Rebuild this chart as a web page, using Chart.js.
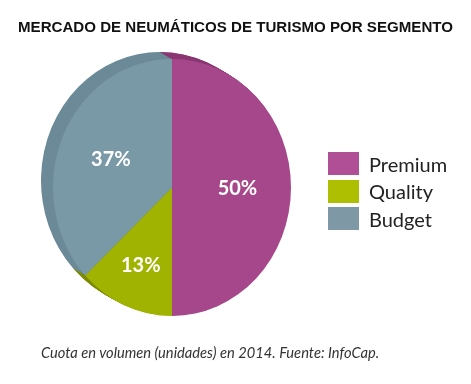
<!DOCTYPE html>
<html><head><meta charset="utf-8">
<script src="https://cdn.jsdelivr.net/npm/chart.js@4.4.0/dist/chart.umd.min.js"></script>
<style>
html,body{margin:0;padding:0;background:#fff;width:471px;height:384px;overflow:hidden;}
#wrap{position:relative;width:471px;height:384px;}
#c{position:absolute;left:0;top:0;}
#title{position:absolute;left:0;top:19px;width:471px;text-align:center;font:bold 15.1px "Liberation Sans",Arial,sans-serif;line-height:16px;color:#111;white-space:nowrap;}
.lg{position:absolute;left:328px;height:23px;display:flex;align-items:center;font:400 20px Lato,sans-serif;color:#222;white-space:nowrap;}
.lg span.b{display:inline-block;width:31px;height:23px;margin-right:10px;}
#cap{position:absolute;left:41px;top:344px;font:italic 14.7px Lato,sans-serif;line-height:16px;color:#333;white-space:nowrap;}
</style></head>
<body><div id="wrap">
<canvas id="c" width="471" height="384"></canvas>
<div id="title"></div>
<div id="legend"></div>
<div id="cap"></div>
</div>
<script>
const titleText = 'MERCADO DE NEUMÁTICOS DE TURISMO POR SEGMENTO';
const captionText = 'Cuota en volumen (unidades) en 2014. Fuente: InfoCap.';
const categories = ['Premium', 'Quality', 'Budget'];
const shares = [50, 13, 37];

const faceColors = ['#A5478A', '#A0B300', '#7A99A6'];
const rimColors = ['#8A3873', '#7C8A00', '#6C8A98'];
const legendColors = ['#B04E96', '#AEBE00', '#7E98A5'];

document.getElementById('title').textContent = titleText;
document.getElementById('cap').textContent = captionText;
const lgTops = [152, 179.5, 207];
const lgEl = document.getElementById('legend');
categories.forEach((c, i) => {
  const d = document.createElement('div');
  d.className = 'lg';
  d.style.top = lgTops[i] + 'px';
  const b = document.createElement('span');
  b.className = 'b';
  b.style.background = legendColors[i];
  d.appendChild(b);
  d.appendChild(document.createTextNode(c));
  lgEl.appendChild(d);
});

const pie3d = {
  id: 'pie3d',
  beforeDatasetsDraw(chart, args, opts) {
    const ctx = chart.ctx;
    const meta = chart.getDatasetMeta(0);
    const a0 = meta.data[0];
    const cx = a0.x, cy = a0.y;
    ctx.save();
    ctx.translate(cx, cy);
    ctx.scale(1, opts.yScale);
    ctx.translate(-cx, -cy);
    const steps = opts.steps;
    for (let s = steps; s >= 1; s--) {
      const ox = opts.dx * s / steps;
      const oy = opts.dy * s / steps / opts.yScale;
      meta.data.forEach((arc, i) => {
        const p = arc.getProps(['x', 'y', 'startAngle', 'endAngle', 'outerRadius'], true);
        ctx.beginPath();
        ctx.moveTo(p.x + ox, p.y + oy);
        ctx.arc(p.x + ox, p.y + oy, p.outerRadius, p.startAngle, p.endAngle);
        ctx.closePath();
        ctx.fillStyle = opts.rimColors[i];
        ctx.fill();
      });
    }
  },
  afterDatasetsDraw(chart, args, opts) {
    const ctx = chart.ctx;
    ctx.restore();
    const meta = chart.getDatasetMeta(0);
    ctx.save();
    ctx.font = '700 20px Lato, sans-serif';
    ctx.fillStyle = '#ffffff';
    ctx.textAlign = 'center';
    ctx.textBaseline = 'alphabetic';
    meta.data.forEach((arc, i) => {
      const p = arc.getProps(['x', 'y', 'startAngle', 'endAngle', 'outerRadius'], true);
      const mid = (p.startAngle + p.endAngle) / 2;
      const r = p.outerRadius * opts.labelR[i];
      const lx = p.x + Math.cos(mid) * r;
      const ly = p.y + Math.sin(mid) * r * opts.yScale;
      ctx.fillText(shares[i] + '%', lx, ly + 7);
    });
    ctx.restore();
  }
};

new Chart(document.getElementById('c'), {
  type: 'pie',
  data: {
    labels: categories,
    datasets: [{
      data: shares,
      backgroundColor: faceColors,
      borderWidth: 0,
      clip: false
    }]
  },
  options: {
    responsive: false,
    animation: false,
    events: [],
    layout: { padding: { left: 53, right: 180, top: 68.5, bottom: 77.5 } },
    plugins: {
      legend: { display: false },
      title: { display: false },
      tooltip: { enabled: false },
      pie3d: { yScale: 1.08, dx: -12, dy: -7, steps: 12, rimColors: rimColors, labelR: [0.55, 0.66, 0.56] }
    }
  },
  plugins: [pie3d]
});
</script>
</body></html>
